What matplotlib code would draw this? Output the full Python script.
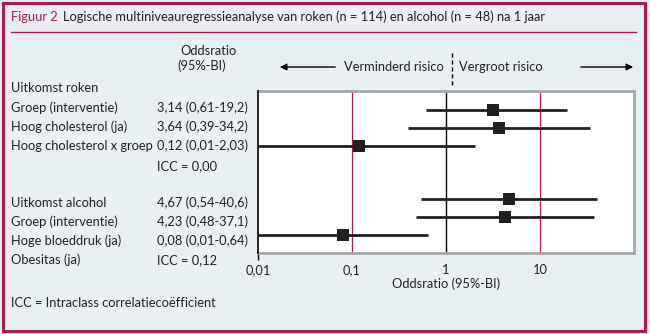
import matplotlib
matplotlib.use("Agg")
import matplotlib.pyplot as plt
from matplotlib.patches import Rectangle, FancyArrowPatch

plt.rcParams['font.family'] = ['Lato', 'DejaVu Sans']

# data
roken_labels = ["Groep (interventie)", "Hoog cholesterol (ja)", "Hoog cholesterol x groep"]
roken_or = [3.14, 3.64, 0.12]
roken_lo = [0.61, 0.39, 0.01]
roken_hi = [19.2, 34.2, 2.03]
roken_icc = 0.00

alcohol_labels = ["Groep (interventie)", "Hoge bloeddruk (ja)", "Obesitas (ja)"]
alcohol_or = [4.67, 4.23, 0.08]
alcohol_lo = [0.54, 0.48, 0.01]
alcohol_hi = [40.6, 37.1, 0.64]
alcohol_icc = 0.12

tick_vals = [0.01, 0.1, 1, 10]
tick_labels = ["0,01", "0,1", "1", "10"]

CRIMSON = "#b01850"
BG = "#e9f0f4"
TXT = "#231f20"
FS = 9.3

W, H = 650, 334
fig = plt.figure(figsize=(W / 100, H / 100), dpi=100)
fig.patch.set_facecolor(BG)


def fx(px):
    return px / W


def fy(py):
    return 1 - py / H


def num(v):
    s = f"{v:.1f}" if v >= 10 else f"{v:.2f}"
    return s.replace('.', ',')


def ci_text(o, lo, hi):
    return f"{num(o)} ({num(lo)}-{num(hi)})"


# frame and title
fig.add_artist(Rectangle((fx(3), fy(331)), fx(642), fy(3) - fy(331), transform=fig.transFigure,
                         fill=False, edgecolor=CRIMSON, lw=2.2))
fig.text(fx(11), fy(17), "Figuur 2", color=CRIMSON, fontsize=FS, va='center')
fig.text(fx(63), fy(17), "Logische multiniveauregressieanalyse van roken (n = 114) en alcohol (n = 48) na 1 jaar",
         color=TXT, fontsize=FS, va='center')
fig.add_artist(plt.Line2D([fx(11), fx(636)], [fy(32), fy(32)], color=CRIMSON, lw=1.0,
                          transform=fig.transFigure))

# table on the left
fig.text(fx(180), fy(51), "Oddsratio", color=TXT, fontsize=FS, va='center')
fig.text(fx(177), fy(66), "(95%-BI)", color=TXT, fontsize=FS, va='center')

left_rows = [(88, "Uitkomst roken", "")]
roken_cols = [ci_text(o, l, h) for o, l, h in zip(roken_or, roken_lo, roken_hi)]
for py, lab, col in zip([108, 127, 146], roken_labels, roken_cols):
    left_rows.append((py, lab, col))
left_rows.append((166, "", f"ICC = {num(roken_icc)}"))

alc_cols = [ci_text(o, l, h) for o, l, h in zip(alcohol_or, alcohol_lo, alcohol_hi)]
alc_labels = ["Uitkomst alcohol"] + alcohol_labels
alc_cols = alc_cols + [f"ICC = {num(alcohol_icc)}"]
for py, lab, col in zip([203, 222, 241, 260], alc_labels, alc_cols):
    left_rows.append((py, lab, col))

for py, lab, col in left_rows:
    if lab:
        fig.text(fx(11), fy(py), lab, color=TXT, fontsize=FS, va='center')
    if col:
        fig.text(fx(157), fy(py), col, color=TXT, fontsize=FS, va='center')

fig.text(fx(11), fy(303), "ICC = Intraclass correlatieco\u00ebfficient", color=TXT, fontsize=FS, va='center')

# forest plot
ax = fig.add_axes([fx(258), fy(253), fx(634) - fx(258), fy(91) - fy(253)])
ax.set_facecolor('white')
ax.set_xscale('log')
ax.set_xlim(0.01, 100)

ors = roken_or + alcohol_or
los = roken_lo + alcohol_lo
his = roken_hi + alcohol_hi
ypos = [0, 1, 2, 5, 6, 7]
ax.set_ylim(8.0, -1.05)

ax.axvline(1, color='black', lw=1.0, zorder=1)
ax.axvline(0.1, color=CRIMSON, lw=0.9, zorder=1)
ax.axvline(10, color=CRIMSON, lw=0.9, zorder=1)

for y, o, lo, hi in zip(ypos, ors, los, his):
    ax.plot([lo, hi], [y, y], color=TXT, lw=2.0, solid_capstyle='butt', zorder=2)
ax.scatter(ors, ypos, marker='s', s=80, color=TXT, zorder=3, linewidths=0)

for side in ['top', 'right', 'bottom']:
    ax.spines[side].set_color('#a3a8aa')
    ax.spines[side].set_linewidth(2.0)
ax.spines['left'].set_color('black')
ax.spines['left'].set_linewidth(1.2)
ax.spines['left'].set_zorder(5)

ax.set_yticks([])
ax.set_xticks(tick_vals)
ax.set_xticklabels(tick_labels, fontsize=FS, color=TXT)
ax.xaxis.set_minor_locator(matplotlib.ticker.NullLocator())
ax.tick_params(axis='x', length=5, width=1, color='black', pad=3)
for t in ax.xaxis.get_major_ticks()[1:]:
    t.tick1line.set_visible(False)
ax.set_xlabel("Oddsratio (95%-BI)", fontsize=FS, color=TXT, labelpad=1)

# direction annotations above the plot
fig.add_artist(plt.Line2D([fx(452), fx(452)], [fy(53), fy(87)], color='black', lw=1.0,
                          ls=(0, (3, 2)), transform=fig.transFigure))
fig.text(fx(394), fy(67), "Verminderd risico", color=TXT, fontsize=FS, ha='center', va='center')
fig.text(fx(501), fy(67), "Vergroot risico", color=TXT, fontsize=FS, ha='center', va='center')
fig.add_artist(FancyArrowPatch((fx(338), fy(67)), (fx(277), fy(67)),
                               transform=fig.transFigure, arrowstyle='-|>',
                               mutation_scale=10, color='black', lw=1.0))
fig.add_artist(FancyArrowPatch((fx(578), fy(67)), (fx(636), fy(67)),
                               transform=fig.transFigure, arrowstyle='-|>',
                               mutation_scale=10, color='black', lw=1.0))

fig.savefig("out.png", dpi=100, facecolor=BG)
